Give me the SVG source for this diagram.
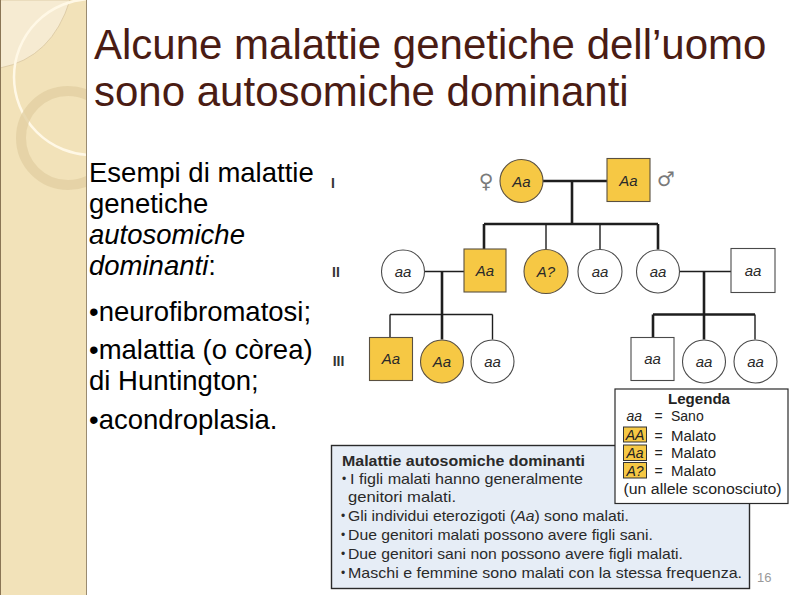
<svg xmlns="http://www.w3.org/2000/svg" width="794" height="595" viewBox="0 0 794 595">
<defs>
<clipPath id="sideClip"><rect x="0" y="0" width="86" height="595"/></clipPath>
</defs>
<style>
.title{font-family:"Liberation Sans",Arial,sans-serif;font-size:42px;fill:#4A1C14}
.body{font-family:"Liberation Sans",Arial,sans-serif;font-size:27.5px;fill:#000}
.it{font-style:italic}
.thick{stroke:#1e1e1e;stroke-width:2.6;fill:none}
.thin{stroke:#1e1e1e;stroke-width:1.4;fill:none}
.aff{fill:#F6C844;stroke:#5a5040;stroke-width:1.1}
.un{fill:#fff;stroke:#4a4a4a;stroke-width:1.1}
.gt{font-family:"Liberation Sans",Arial,sans-serif;font-style:italic;font-size:15px;fill:#2a2a2a;text-anchor:middle}
.gen{font-family:"Liberation Sans",Arial,sans-serif;font-weight:bold;font-size:14px;fill:#333;text-anchor:middle}
.sym{font-family:"DejaVu Sans",sans-serif;font-size:20px;fill:#7a7a7a;text-anchor:middle}
.lg{font-family:"Liberation Sans",Arial,sans-serif;font-size:14px;fill:#222}
.bx{font-family:"Liberation Sans",Arial,sans-serif;font-size:15px;fill:#2a2a2a}
.bul{font-family:"Liberation Sans",Arial,sans-serif;font-size:12px;fill:#2a2a2a}
</style>

<g id="sidebar">
<rect x="0" y="0" width="86" height="595" fill="#F2E2B9"/>
<g clip-path="url(#sideClip)">
<path d="M0,0 L70,0 Q52,58 0,68 Z" fill="#F6EBD2" stroke="#D9C7A0" stroke-width="0.8"/>
<circle cx="92" cy="77" r="78" fill="none" stroke="#FFF8E6" stroke-width="2.5"/>
<circle cx="68" cy="138" r="47" fill="none" stroke="#E2CFA3" stroke-width="10" opacity="0.8"/>
</g>
<line x1="0.5" y1="0" x2="0.5" y2="595" stroke="#8A7555" stroke-width="1"/>
<line x1="86.5" y1="0" x2="86.5" y2="595" stroke="#9A8B70" stroke-width="1"/>
</g>

<g id="title">
<text class="title" x="94" y="59">Alcune malattie genetiche dell’uomo</text>
<text class="title" x="94" y="106">sono autosomiche dominanti</text>
</g>

<g id="body-text">
<text class="body" x="89" y="182">Esempi di malattie</text>
<text class="body" x="89" y="213">genetiche</text>
<text class="body it" x="89" y="244">autosomiche</text>
<text class="body" x="89" y="275"><tspan class="it">dominanti</tspan>:</text>
<text class="body" x="89" y="321">•neurofibromatosi;</text>
<text class="body" x="89" y="359">•malattia (o còrea)</text>
<text class="body" x="89" y="390">di Huntington;</text>
<text class="body" x="89" y="429">•acondroplasia.</text>
</g>

<g id="generation-labels">
<text class="gen" x="333" y="188">I</text>
<text class="gen" x="336" y="277">II</text>
<text class="gen" x="338.5" y="366">III</text>
</g>

<g id="connectors">
<line class="thick" x1="543" y1="181" x2="607" y2="181"/>
<line class="thick" x1="572" y1="181" x2="572" y2="224"/>
<line class="thick" x1="484" y1="224" x2="658" y2="224"/>
<line class="thick" x1="484" y1="224" x2="484" y2="249"/>
<line class="thin" x1="546" y1="224" x2="546" y2="249"/>
<line class="thin" x1="600" y1="224" x2="600" y2="249"/>
<line class="thick" x1="658" y1="224" x2="658" y2="249.5"/>
<line class="thin" x1="424.5" y1="271.5" x2="464" y2="271.5"/>
<line class="thick" x1="442" y1="271.5" x2="442" y2="339.5"/>
<line class="thin" x1="390" y1="314.5" x2="492.5" y2="314.5"/>
<line class="thin" x1="390" y1="314.5" x2="390" y2="337"/>
<line class="thin" x1="492.5" y1="314.5" x2="492.5" y2="339.5"/>
<line class="thin" x1="679.5" y1="271.5" x2="731" y2="271.5"/>
<line class="thick" x1="704" y1="271.5" x2="704" y2="339.5"/>
<line class="thick" x1="653" y1="314.5" x2="755" y2="314.5"/>
<line class="thick" x1="653" y1="314.5" x2="653" y2="337"/>
<line class="thin" x1="755" y1="314.5" x2="755" y2="339.5"/>
</g>

<g id="sex-symbols">
<text class="sym" x="486" y="188">♀</text>
<text class="sym" x="666" y="186">♂</text>
</g>

<g id="I-1"><circle class="aff" cx="521.5" cy="181" r="21.5"/><text class="gt" x="521.5" y="186.5">Aa</text></g>
<g id="I-2"><rect class="aff" x="607" y="158.5" width="43" height="43"/><text class="gt" x="628.5" y="185.5">Aa</text></g>

<g id="II-1"><circle class="un" cx="403" cy="271.5" r="21.5"/><text class="gt" x="403" y="277">aa</text></g>
<g id="II-2"><rect class="aff" x="464" y="249" width="42" height="43"/><text class="gt" x="485" y="276">Aa</text></g>
<g id="II-3"><circle class="aff" cx="546" cy="271.5" r="22"/><text class="gt" x="546" y="277">A?</text></g>
<g id="II-4"><circle class="un" cx="600" cy="271.5" r="22"/><text class="gt" x="600" y="277">aa</text></g>
<g id="II-5"><circle class="un" cx="658" cy="271.5" r="21.5"/><text class="gt" x="658" y="277">aa</text></g>
<g id="II-6"><rect class="un" x="731" y="248.5" width="44" height="44"/><text class="gt" x="753" y="276">aa</text></g>

<g id="III-1"><rect class="aff" x="369.5" y="337.5" width="43" height="43"/><text class="gt" x="391" y="364">Aa</text></g>
<g id="III-2"><circle class="aff" cx="442" cy="361.5" r="21.5"/><text class="gt" x="442" y="367">Aa</text></g>
<g id="III-3"><circle class="un" cx="492.5" cy="361.5" r="21.5"/><text class="gt" x="492.5" y="367">aa</text></g>
<g id="III-4"><rect class="un" x="631" y="337.5" width="43" height="43"/><text class="gt" x="652.5" y="364">aa</text></g>
<g id="III-5"><circle class="un" cx="704" cy="361.5" r="21.5"/><text class="gt" x="704" y="367">aa</text></g>
<g id="III-6"><circle class="un" cx="755.5" cy="361.5" r="21.5"/><text class="gt" x="755.5" y="367">aa</text></g>

<g id="summary-box">
<rect x="331.5" y="445.5" width="418" height="143" fill="#E6EDF6" stroke="#2a2a2a" stroke-width="1.4"/>
<text class="bx" x="342" y="466" font-weight="bold" textLength="243" lengthAdjust="spacingAndGlyphs" fill="#1a1a1a">Malattie autosomiche dominanti</text>
<text class="bul" x="342" y="483">•</text>
<text class="bx" x="350" y="484" textLength="233" lengthAdjust="spacingAndGlyphs">I figli malati hanno generalmente</text>
<text class="bx" x="348" y="502" textLength="108" lengthAdjust="spacingAndGlyphs">genitori malati.</text>
<text class="bul" x="341" y="520">•</text>
<text class="bx" x="348" y="521" textLength="281" lengthAdjust="spacingAndGlyphs">Gli individui eterozigoti (<tspan font-style="italic">Aa</tspan>) sono malati.</text>
<text class="bul" x="341" y="539">•</text>
<text class="bx" x="348" y="540" textLength="305" lengthAdjust="spacingAndGlyphs">Due genitori malati possono avere figli sani.</text>
<text class="bul" x="341" y="558">•</text>
<text class="bx" x="348" y="559" textLength="335" lengthAdjust="spacingAndGlyphs">Due genitori sani non possono avere figli malati.</text>
<text class="bul" x="341" y="577">•</text>
<text class="bx" x="348" y="578" textLength="394" lengthAdjust="spacingAndGlyphs">Maschi e femmine sono malati con la stessa frequenza.</text>
</g>

<g id="legend">
<rect x="615" y="389" width="173" height="114.5" fill="#fff" stroke="#2a2a2a" stroke-width="1.2"/>
<text class="lg" x="668" y="404" font-weight="bold" textLength="62" lengthAdjust="spacingAndGlyphs" fill="#111">Legenda</text>
<text class="lg it" x="626.5" y="421" fill="#555">aa</text>
<text class="lg" x="654.5" y="421">=</text>
<text class="lg" x="671" y="421">Sano</text>
<rect x="623.5" y="427" width="23" height="15" fill="#F6C844" stroke="#333" stroke-width="1"/>
<text class="lg it" x="635" y="440" text-anchor="middle">AA</text>
<text class="lg" x="654.5" y="440.5">=</text>
<text class="lg" x="671" y="440.5" textLength="45" lengthAdjust="spacingAndGlyphs">Malato</text>
<rect x="623.5" y="445" width="23" height="15.5" fill="#F6C844" stroke="#333" stroke-width="1"/>
<text class="lg it" x="635" y="458" text-anchor="middle">Aa</text>
<text class="lg" x="654.5" y="458">=</text>
<text class="lg" x="671" y="458" textLength="45" lengthAdjust="spacingAndGlyphs">Malato</text>
<rect x="623.5" y="462.5" width="23" height="15.5" fill="#F6C844" stroke="#333" stroke-width="1"/>
<text class="lg it" x="635" y="475.5" text-anchor="middle">A?</text>
<text class="lg" x="654.5" y="475.5">=</text>
<text class="lg" x="671" y="475.5" textLength="45" lengthAdjust="spacingAndGlyphs">Malato</text>
<text class="lg" x="623.5" y="494" textLength="158" lengthAdjust="spacingAndGlyphs">(un allele sconosciuto)</text>
</g>

<g id="page-number">
<text x="757" y="582" font-family="'Liberation Sans',Arial,sans-serif" font-size="13" fill="#9a9a9a">16</text>
</g>
</svg>
